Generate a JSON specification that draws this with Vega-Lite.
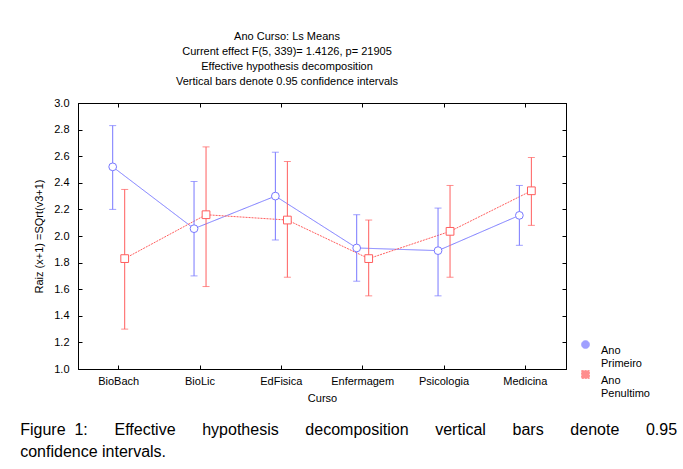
{
  "$schema": "https://vega.github.io/schema/vega-lite/v6.json",
  "background": "white",
  "padding": {"left": 20, "top": 30, "right": 5, "bottom": 5},
  "config": {
    "font": "Liberation Sans",
    "view": {"stroke": "black", "strokeWidth": 1}
  },
  "title": {
    "text": ["Figure\u00a0\u00a01:\u00a0\u00a0\u00a0\u00a0\u00a0\u00a0Effective\u00a0\u00a0\u00a0\u00a0\u00a0\u00a0hypothesis\u00a0\u00a0\u00a0\u00a0\u00a0\u00a0decomposition\u00a0\u00a0\u00a0\u00a0\u00a0\u00a0vertical\u00a0\u00a0\u00a0\u00a0\u00a0\u00a0bars\u00a0\u00a0\u00a0\u00a0\u00a0\u00a0denote\u00a0\u00a0\u00a0\u00a0\u00a0\u00a00.95", "confidence intervals."],
    "orient": "bottom",
    "anchor": "start",
    "fontSize": 16,
    "fontWeight": "normal",
    "lineHeight": 22,
    "offset": 18,
    "dx": -13,
    "color": "black"
  },
  "vconcat": [
    {
      "width": 488,
      "height": 266,
      "title": {
        "text": ["Ano Curso: Ls Means", "Current effect F(5, 339)= 1.4126, p= 21905", "Effective hypothesis decomposition", "Vertical bars denote 0.95 confidence intervals"],
        "fontSize": 11,
        "fontWeight": "normal",
        "lineHeight": 15,
        "offset": 10,
        "dx": -35,
        "color": "black"
      },
      "data": {
        "values": [
          {"Curso": "BioBach", "Ano": "Ano Primeiro", "mean": 2.52, "lo": 2.2, "hi": 2.83},
          {"Curso": "BioLic", "Ano": "Ano Primeiro", "mean": 2.055, "lo": 1.7, "hi": 2.41},
          {"Curso": "EdFisica", "Ano": "Ano Primeiro", "mean": 2.3, "lo": 1.97, "hi": 2.63},
          {"Curso": "Enfermagem", "Ano": "Ano Primeiro", "mean": 1.91, "lo": 1.66, "hi": 2.16},
          {"Curso": "Psicologia", "Ano": "Ano Primeiro", "mean": 1.89, "lo": 1.55, "hi": 2.21},
          {"Curso": "Medicina", "Ano": "Ano Primeiro", "mean": 2.155, "lo": 1.93, "hi": 2.38},
          {"Curso": "BioBach", "Ano": "Ano Penultimo", "mean": 1.83, "lo": 1.3, "hi": 2.35},
          {"Curso": "BioLic", "Ano": "Ano Penultimo", "mean": 2.16, "lo": 1.62, "hi": 2.67},
          {"Curso": "EdFisica", "Ano": "Ano Penultimo", "mean": 2.12, "lo": 1.69, "hi": 2.56},
          {"Curso": "Enfermagem", "Ano": "Ano Penultimo", "mean": 1.83, "lo": 1.55, "hi": 2.12},
          {"Curso": "Psicologia", "Ano": "Ano Penultimo", "mean": 2.035, "lo": 1.69, "hi": 2.38},
          {"Curso": "Medicina", "Ano": "Ano Penultimo", "mean": 2.34, "lo": 2.08, "hi": 2.59}
        ]
      },
      "resolve": {"axis": {"x": "independent", "y": "independent"}},
      "layer": [
        {
          "mark": {"type": "line", "strokeWidth": 1},
          "encoding": {
            "x": {
              "field": "Curso", "type": "nominal",
              "sort": ["BioBach", "BioLic", "EdFisica", "Enfermagem", "Psicologia", "Medicina"],
              "scale": {"type": "band", "paddingInner": 0, "paddingOuter": 0},
              "axis": {"orient": "bottom", "title": "Curso", "labelAngle": 0, "labelFontSize": 11, "titleFontSize": 11, "titleFontWeight": "normal", "labelColor": "black", "titleColor": "black", "domainColor": "black", "tickColor": "black", "tickSize": -4, "labelPadding": 10, "titlePadding": 6}
            },
            "xOffset": {"field": "Ano", "type": "nominal", "sort": ["Ano Primeiro", "Ano Penultimo"], "scale": {"type": "point", "range": [34.7, 46.7], "padding": 0}},
            "y": {
              "field": "mean", "type": "quantitative",
              "scale": {"domain": [1, 3], "nice": false, "zero": false},
              "axis": {"orient": "left", "title": "Raiz (x+1) =SQrt(v3+1)", "values": [1.0, 1.2, 1.4, 1.6, 1.8, 2.0, 2.2, 2.4, 2.6, 2.8, 3.0], "format": ".1f", "grid": false, "labelFontSize": 11, "titleFontSize": 11, "titleFontWeight": "normal", "labelColor": "black", "titleColor": "black", "domainColor": "black", "tickColor": "black", "tickSize": -4, "labelPadding": 13, "titlePadding": 9}
            },
            "color": {"field": "Ano", "type": "nominal", "scale": {"domain": ["Ano Primeiro", "Ano Penultimo"], "range": ["#7878ff", "#ff5e5e"]}},
            "strokeDash": {"field": "Ano", "type": "nominal", "scale": {"domain": ["Ano Primeiro", "Ano Penultimo"], "range": [[1, 0], [2, 1]]}, "legend": null},
            "order": {"value": null}
          }
        },
        {
          "mark": {"type": "rule", "strokeWidth": 1},
          "encoding": {
            "x": {
              "field": "Curso", "type": "nominal",
              "sort": ["BioBach", "BioLic", "EdFisica", "Enfermagem", "Psicologia", "Medicina"],
              "axis": {"orient": "top", "title": null, "labels": false, "domainColor": "black", "tickColor": "black", "tickSize": -4}
            },
            "xOffset": {"field": "Ano", "type": "nominal", "sort": ["Ano Primeiro", "Ano Penultimo"]},
            "y": {
              "field": "lo", "type": "quantitative",
              "axis": {"orient": "right", "title": null, "labels": false, "grid": false, "values": [1.0, 1.2, 1.4, 1.6, 1.8, 2.0, 2.2, 2.4, 2.6, 2.8, 3.0], "domainColor": "black", "tickColor": "black", "tickSize": -4}
            },
            "y2": {"field": "hi"},
            "color": {"field": "Ano", "type": "nominal"}
          }
        },
        {
          "mark": {"type": "tick", "size": 7, "thickness": 1},
          "encoding": {
            "x": {"field": "Curso", "type": "nominal", "sort": ["BioBach", "BioLic", "EdFisica", "Enfermagem", "Psicologia", "Medicina"], "axis": null},
            "xOffset": {"field": "Ano", "type": "nominal", "sort": ["Ano Primeiro", "Ano Penultimo"]},
            "y": {"field": "lo", "type": "quantitative", "axis": null},
            "color": {"field": "Ano", "type": "nominal"}
          }
        },
        {
          "mark": {"type": "tick", "size": 7, "thickness": 1},
          "encoding": {
            "x": {"field": "Curso", "type": "nominal", "sort": ["BioBach", "BioLic", "EdFisica", "Enfermagem", "Psicologia", "Medicina"], "axis": null},
            "xOffset": {"field": "Ano", "type": "nominal", "sort": ["Ano Primeiro", "Ano Penultimo"]},
            "y": {"field": "hi", "type": "quantitative", "axis": null},
            "color": {"field": "Ano", "type": "nominal"}
          }
        },
        {
          "mark": {"type": "point", "filled": false, "fill": "white", "fillOpacity": 1, "opacity": 1, "strokeWidth": 1, "size": 60},
          "encoding": {
            "x": {"field": "Curso", "type": "nominal", "sort": ["BioBach", "BioLic", "EdFisica", "Enfermagem", "Psicologia", "Medicina"], "axis": null},
            "xOffset": {"field": "Ano", "type": "nominal", "sort": ["Ano Primeiro", "Ano Penultimo"]},
            "y": {"field": "mean", "type": "quantitative", "axis": null},
            "color": {
              "field": "Ano", "type": "nominal",
              "legend": {
                "title": null, "orient": "none", "legendX": 502, "legendY": 236,
                "labelExpr": "split(datum.label, ' ')", "labelBaseline": "top", "labelFontSize": 11, "labelColor": "black",
                "symbolSize": 60, "symbolStrokeWidth": 1, "rowPadding": -7, "labelOffset": 10
              }
            },
            "shape": {
              "field": "Ano", "type": "nominal",
              "scale": {"domain": ["Ano Primeiro", "Ano Penultimo"], "range": ["circle", "square"]},
              "legend": null
            }
          }
        }
      ]
    }
  ]
}
